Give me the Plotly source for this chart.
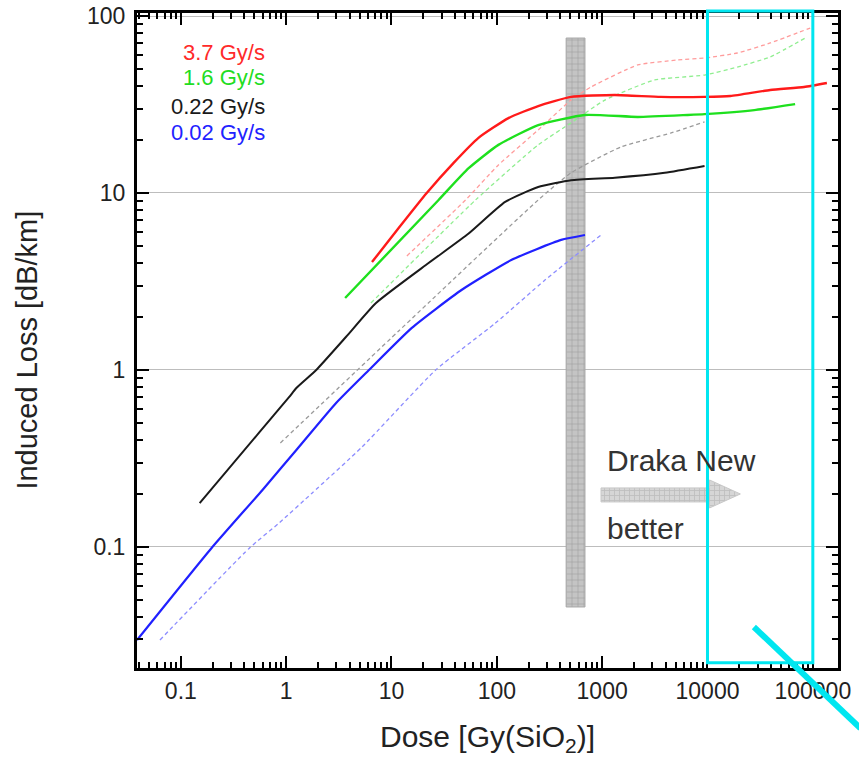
import plotly.graph_objects as go

# ---------------- data ----------------
red_solid_x = [6.53, 11.7, 21.6, 38.9, 67, 129, 247, 507, 1321, 3597, 9376, 16500, 39400, 82600, 136000]
red_solid_y = [4.07, 6.34, 10.0, 14.8, 20.5, 26.5, 31.0, 34.9, 35.8, 34.9, 34.9, 35.3, 38.2, 39.7, 41.8]

red_dash_x = [14.0, 50.5, 103.5, 247, 507, 783, 2178, 5200, 9376, 19200, 39400, 94300]
red_dash_y = [4.41, 9.13, 14.4, 22.7, 33.5, 39.7, 52.9, 56.4, 57.9, 61.8, 70.4, 85.5]

green_solid_x = [3.63, 28, 54, 103.5, 247, 687, 2178, 6470, 9376, 27800, 67900]
green_solid_y = [2.55, 9.13, 13.8, 18.7, 24.2, 27.6, 26.9, 27.6, 27.9, 29.4, 31.8]

green_dash_x = [6.38, 62.8, 247, 507, 1062, 3155, 9376, 19200, 39400, 88100]
green_dash_y = [2.39, 9.13, 18.7, 24.9, 33.5, 43.5, 46.4, 51.5, 58.7, 76.1]

black_solid_x = [0.151, 0.558, 1.07, 1.25, 1.93, 3.71, 7.13, 22.5, 54, 120, 247, 507, 1321, 3930, 9376]
black_solid_y = [0.177, 0.445, 0.704, 0.791, 1.0, 1.54, 2.39, 4.02, 5.9, 8.9, 10.8, 11.8, 12.2, 13.0, 14.2]

black_dash_x = [0.881, 11.7, 247, 507, 1507, 4467, 9376]
black_dash_y = [0.387, 1.66, 9.13, 13.0, 18.2, 21.8, 25.2]

blue_solid_x = [0.0384, 0.196, 0.596, 1.25, 2.98, 6.11, 15.6, 46.2, 137, 408, 687]
blue_solid_y = [0.0298, 0.0987, 0.210, 0.353, 0.651, 1.0, 1.73, 2.83, 4.18, 5.43, 5.79]

blue_dash_x = [0.0634, 0.449, 0.863, 1.77, 5.25, 26.3, 97, 288, 975]
blue_dash_y = [0.0298, 0.0987, 0.137, 0.202, 0.367, 1.0, 1.84, 3.23, 5.79]

rate_labels = ["3.7 Gy/s", "1.6 Gy/s", "0.22 Gy/s", "0.02 Gy/s"]

x_tick_vals = [0.1, 1, 10, 100, 1000, 10000, 100000]
x_tick_text = ["0.1", "1", "10", "100", "1000", "10000", "100000"]
y_tick_vals = [0.1, 1, 10, 100]
y_tick_text = ["0.1", "1", "10", "100"]

# annotation regions (dose band, arrow, highlighted box)
band_x = [455, 687]
band_y = [0.0458, 75.1]
arrow_x = [975, 10450, 10450, 20500, 10450, 10450, 975]
arrow_y = [0.1796, 0.1796, 0.166, 0.1992, 0.239, 0.2155, 0.2155]
box_x = [10000, 100000]

# ---------------- figure ----------------
FONT = "Liberation Sans, Arial, Helvetica, sans-serif"
fig = go.Figure()

# grey hatched vertical band
fig.add_trace(go.Scatter(
    x=[band_x[0], band_x[1], band_x[1], band_x[0], band_x[0]],
    y=[band_y[0], band_y[0], band_y[1], band_y[1], band_y[0]],
    mode="lines", fill="toself", line=dict(color="#a8a8a8", width=1),
    fillcolor="#c0c0c0",
    fillpattern=dict(shape="+", size=6, solidity=0.25, fgcolor="#8a8a8a", bgcolor="#c4c4c4"),
    hoverinfo="skip", showlegend=False))

# hatched arrow
fig.add_trace(go.Scatter(
    x=arrow_x + [arrow_x[0]], y=arrow_y + [arrow_y[0]],
    mode="lines", fill="toself", line=dict(color="#c8c8c8", width=1),
    fillcolor="#d4d4d4",
    fillpattern=dict(shape="+", size=5, solidity=0.3, fgcolor="#a4a4a4", bgcolor="#d6d6d6"),
    hoverinfo="skip", showlegend=False))

dash = "4px,3px"
series = [
    (blue_dash_x, blue_dash_y, "#8c8cff", 1.3, dash),
    (black_dash_x, black_dash_y, "#9a9a9a", 1.3, dash),
    (green_dash_x, green_dash_y, "#90ee90", 1.3, dash),
    (red_dash_x, red_dash_y, "#ff9c9c", 1.3, dash),
    (blue_solid_x, blue_solid_y, "#2020ff", 2.2, "solid"),
    (black_solid_x, black_solid_y, "#1a1a1a", 2.0, "solid"),
    (green_solid_x, green_solid_y, "#1ee01e", 2.4, "solid"),
    (red_solid_x, red_solid_y, "#ff1a1a", 2.4, "solid"),
]
for xs, ys, col, w, d in series:
    fig.add_trace(go.Scatter(x=xs, y=ys, mode="lines",
                             line=dict(color=col, width=w, dash=d, shape="spline", smoothing=0.5),
                             hoverinfo="skip", showlegend=False))

# rate labels (top-left)
label_colors = ["#ff2a2a", "#22dd22", "#1a1a1a", "#2222ff"]
label_y = [0.939, 0.901, 0.858, 0.817]
for txt, col, yy in zip(rate_labels, label_colors, label_y):
    fig.add_annotation(x=0.1855, y=yy, xref="paper", yref="paper", text=txt,
                       showarrow=False, xanchor="right", yanchor="middle",
                       font=dict(family=FONT, size=22, color=col))

fig.add_annotation(x=3.026, y=-0.514, xref="x", yref="y", text="Draka New", showarrow=False,
                   xanchor="left", yanchor="middle", font=dict(family=FONT, size=30, color="#333333"))
fig.add_annotation(x=3.026, y=-0.893, xref="x", yref="y", text="better", showarrow=False,
                   xanchor="left", yanchor="middle", font=dict(family=FONT, size=30, color="#333333"))

# axis titles
fig.add_annotation(x=0.5007, y=-0.107, xref="paper", yref="paper", text="Dose [Gy(SiO<sub>2</sub>)]",
                   showarrow=False, xanchor="center", yanchor="middle",
                   font=dict(family=FONT, size=30, color="#222222"))
fig.add_annotation(x=-0.157, y=0.486, xref="paper", yref="paper", text="Induced Loss [dB/km]",
                   showarrow=False, xanchor="center", yanchor="middle", textangle=-90,
                   font=dict(family=FONT, size=29, color="#222222"))

# cyan highlight rectangle and diagonal stroke
fig.add_shape(type="rect", xref="x", yref="paper", x0=box_x[0], x1=box_x[1], y0=0.008, y1=1.003,
              line=dict(color="#00e6f0", width=3), fillcolor="rgba(0,0,0,0)")
fig.add_shape(type="line", xref="paper", yref="paper", x0=0.880, y0=0.0626, x1=1.032, y1=-0.092,
              line=dict(color="#00e6f0", width=6))

minor_x = [m * 10 ** e for e in range(-2, 6) for m in range(2, 10)]
minor_y = [m * 10 ** e for e in range(-2, 3) for m in range(2, 10)]

fig.update_layout(
    width=859, height=760,
    margin=dict(l=137, r=21, t=13, b=92, autoexpand=False),
    paper_bgcolor="white", plot_bgcolor="white",
    font=dict(family=FONT, color="#222222"),
    xaxis=dict(type="log", range=[-1.416, 5.239], automargin=False,
               tickmode="array", tickvals=x_tick_vals, ticktext=x_tick_text,
               ticks="inside", ticklen=12, tickwidth=2, tickcolor="black",
               showline=True, linewidth=3, linecolor="black", mirror="ticks",
               showgrid=False, zeroline=False,
               minor=dict(tickmode="array", tickvals=minor_x, ticks="inside", ticklen=6,
                          tickwidth=1.5, tickcolor="black", showgrid=False),
               tickfont=dict(family=FONT, size=23, color="#222222")),
    yaxis=dict(type="log", range=[-1.684, 2.017], automargin=False,
               tickmode="array", tickvals=y_tick_vals, ticktext=y_tick_text,
               ticks="inside", ticklen=12, tickwidth=2, tickcolor="black",
               showline=True, linewidth=3, linecolor="black", mirror="ticks",
               showgrid=True, gridcolor="#bdbdbd", gridwidth=1, zeroline=False,
               ticklabelstandoff=4,
               minor=dict(tickmode="array", tickvals=minor_y, ticks="inside", ticklen=6,
                          tickwidth=1.5, tickcolor="black", showgrid=False),
               tickfont=dict(family=FONT, size=23, color="#222222")),
)

fig.write_html("out.html", config={"displayModeBar": False},
               post_script="document.body.style.margin='0';")
